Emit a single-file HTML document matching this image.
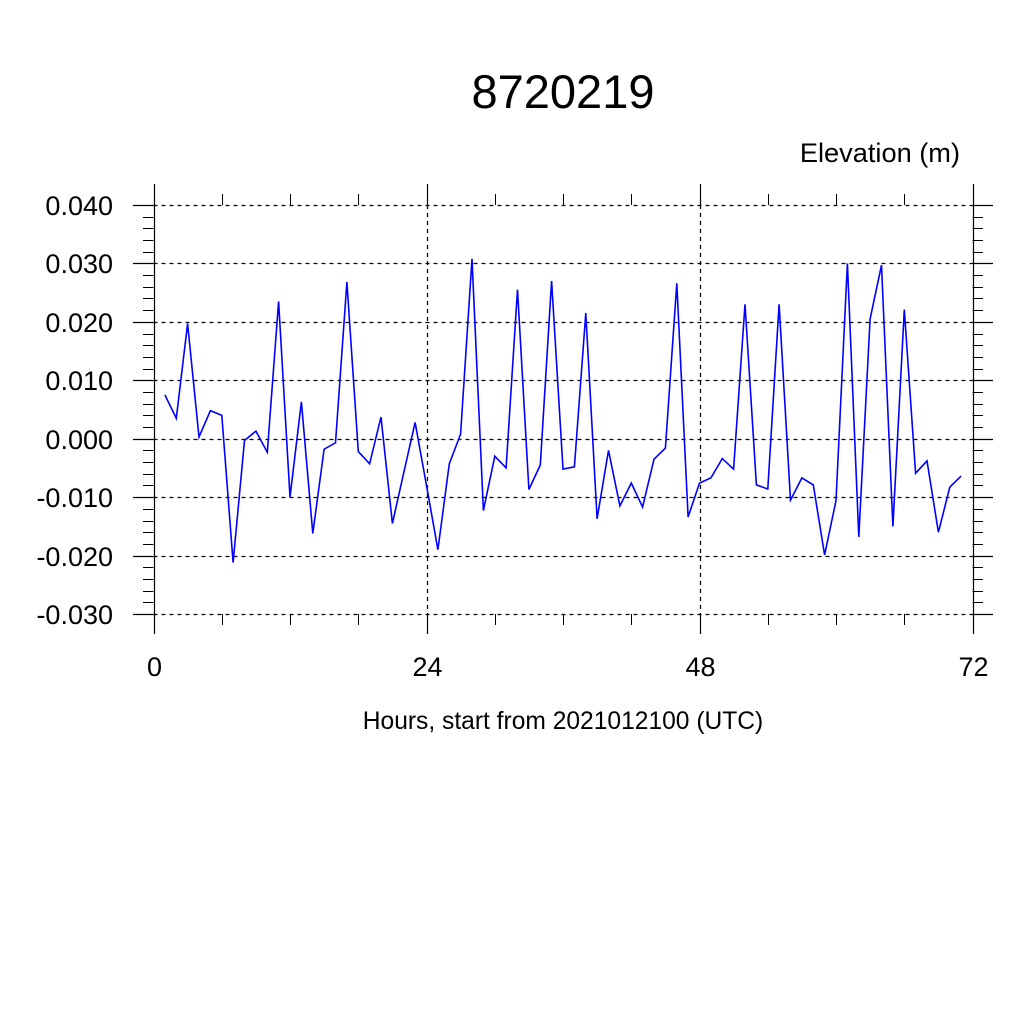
<!DOCTYPE html>
<html><head><meta charset="utf-8"><style>
body{margin:0;background:#fff}
svg text{font-family:"Liberation Sans",sans-serif;fill:#000}
</style></head><body>
<svg id="c" width="1024" height="1024" viewBox="0 0 1024 1024">
<text x="563" y="108" font-size="47" text-anchor="middle">8720219</text>
<text x="960" y="162" font-size="27.2" text-anchor="end">Elevation (m)</text>
<text x="563" y="729" font-size="24.6" text-anchor="middle">Hours, start from 2021012100 (UTC)</text>
<g id="axes"></g>
<path id="line" fill="none" stroke="#0000ff" stroke-width="1.6"/>
</svg>
<script>
const hours = [1,2,3,4,5,6,7,8,9,10,11,12,13,14,15,16,17,18,19,20,21,22,23,24,25,26,27,28,29,30,31,32,33,34,35,36,37,38,39,40,41,42,43,44,45,46,47,48,49,50,51,52,53,54,55,56,57,58,59,60,61,62,63,64,65,66,67,68,69,70,71];
const elevation = [0.0075,0.0035,0.0197,0.0003,0.0048,0.0040,-0.0212,-0.0003,0.0013,-0.0023,0.0235,-0.0100,0.0063,-0.0162,-0.0018,-0.0007,0.0268,-0.0022,-0.0043,0.0037,-0.0145,-0.0058,0.0028,-0.0080,-0.0190,-0.0043,0.0008,0.0308,-0.0123,-0.0030,-0.0050,0.0255,-0.0087,-0.0045,0.0270,-0.0052,-0.0048,0.0215,-0.0137,-0.0020,-0.0115,-0.0076,-0.0117,-0.0035,-0.0016,0.0266,-0.0134,-0.0076,-0.0067,-0.0034,-0.0052,0.0230,-0.0079,-0.0086,0.0230,-0.0105,-0.0067,-0.0079,-0.0199,-0.0106,0.0300,-0.0168,0.0205,0.0297,-0.0150,0.0221,-0.0059,-0.0038,-0.0160,-0.0083,-0.0064];
const yTicks = [0.040,0.030,0.020,0.010,0.000,-0.010,-0.020,-0.030];
const yTickLabels = ["0.040","0.030","0.020","0.010","0.000","-0.010","-0.020","-0.030"];
const xTicks = [0,24,48,72];
const xTickLabels = ["0","24","48","72"];

const X0=153.5,X1=972.5,Y0=614,Y1=205;
const xs = h => X0 + (h-0)/(72-0)*(X1-X0);
const ys = v => Y0 - (v-(-0.03))/(0.07)*(Y0-Y1);
const NS="http://www.w3.org/2000/svg";
const g=document.getElementById('axes');
function ln(x1,y1,x2,y2,dash,name,w){
  const l=document.createElementNS(NS,'line');
  l.setAttribute('x1',x1);l.setAttribute('y1',y1);l.setAttribute('x2',x2);l.setAttribute('y2',y2);
  l.setAttribute('stroke','#000');l.setAttribute('stroke-width',w||1.2);
  if(dash)l.setAttribute('stroke-dasharray','4 4');
  
  
  g.appendChild(l);
}
function tx(x,y,s,anchor,name){
  const t=document.createElementNS(NS,'text');
  t.setAttribute('x',x);t.setAttribute('y',y);t.setAttribute('font-size','27');t.setAttribute('text-anchor',anchor);
  t.textContent=s;
  
  
  g.appendChild(t);
}
for(let v=-0.030; v<=0.0401; v+=0.002){
  const y=Math.round(ys(v))+0.5;
  ln(143,y,X0,y,false,'y-minor-tick-left',1);
  ln(X1,y,983,y,false,'y-minor-tick-right',1);
}
for(let h=6; h<72; h+=6){
  if(h%24===0)continue;
  const x=Math.round(xs(h))+0.5;
  ln(x,194,x,Y1,false,'x-minor-tick-top',1);
  ln(x,Y0,x,625,false,'x-minor-tick-bottom',1);
}
yTicks.forEach((v,i)=>{
  const y=Math.round(ys(v))+0.5;
  ln(X0,y,X1,y,true,'y-grid-line');
  ln(133,y,X0,y,false,'y-major-tick-left');
  ln(X1,y,993,y,false,'y-major-tick-right');
  tx(113,y+9.5,yTickLabels[i],'end','y-tick-label');
});
xTicks.forEach((h,i)=>{
  const x=Math.round(xs(h))+0.5;
  if(h===0||h===72) ln(x,184,x,634,false,'y-axis-line');
  else { ln(x,Y1,x,Y0,true,'x-grid-line'); ln(x,184,x,Y1,false,'x-major-tick-top'); ln(x,Y0,x,634,false,'x-major-tick-bottom'); }
  tx(x,676,xTickLabels[i],'middle','x-tick-label');
});
let d='';
hours.forEach((h,i)=>{d+=(i?'L':'M')+xs(h).toFixed(1)+' '+ys(elevation[i]).toFixed(1);});
document.getElementById('line').setAttribute('d',d);
</script>
</body></html>
